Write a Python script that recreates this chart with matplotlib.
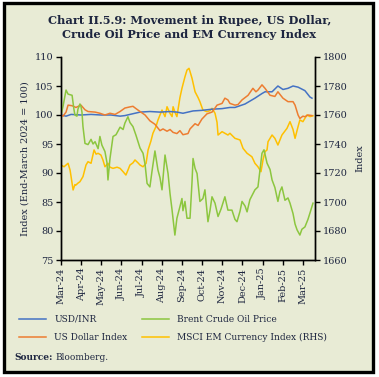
import matplotlib
matplotlib.use("Agg")
import matplotlib.pyplot as plt
from matplotlib.patches import Rectangle

# time axis: months since end-March 2024
month_labels = ['Mar-24', 'Apr-24', 'May-24', 'Jun-24', 'Jul-24', 'Aug-24', 'Sep-24',
                'Oct-24', 'Nov-24', 'Dec-24', 'Jan-25', 'Feb-25', 'Mar-25']

# USD/INR (End-March 2024 = 100)
usd_t = [0, 0.25, 0.5, 0.99, 1.49, 1.98, 2.48, 2.93, 3.17, 3.42, 3.92, 4.41, 4.91, 5.41, 5.75,
         6.05, 6.55, 6.99, 7.49, 7.99, 8.38, 8.63, 9.13, 9.62, 9.97, 10.12, 10.47, 10.76, 11.01,
         11.26, 11.51, 11.76, 12.10, 12.35, 12.45]
usd_v = [100, 99.8, 100.1, 100.0, 100.1, 100.0, 100.0, 99.8, 99.9, 100.1, 100.5, 100.6, 100.5,
         100.6, 100.5, 100.3, 100.7, 100.8, 101.0, 101.1, 101.3, 101.3, 101.9, 102.9, 103.7,
         104.0, 104.0, 105.0, 104.4, 104.6, 105.0, 104.8, 104.2, 103.1, 102.9]

# US Dollar Index
dxy_t = [0, 0.10, 0.25, 0.35, 0.55, 0.74, 0.99, 1.09, 1.19, 1.34, 1.69, 1.93, 2.18, 2.43, 2.68,
         2.93, 3.17, 3.42, 3.57, 3.72, 3.92, 4.17, 4.41, 4.66, 4.91, 5.06, 5.26, 5.41, 5.56,
         5.75, 5.90, 6.05, 6.30, 6.40, 6.65, 6.80, 6.99, 7.24, 7.49, 7.64, 7.74, 7.99, 8.13,
         8.28, 8.38, 8.63, 8.78, 8.98, 9.28, 9.52, 9.67, 9.77, 9.97, 10.12, 10.37, 10.61, 10.76,
         11.01, 11.26, 11.51, 11.61, 11.76, 11.85, 12.00, 12.10, 12.25, 12.45]
dxy_v = [100, 99.8, 100.5, 101.7, 101.6, 101.3, 101.7, 101.3, 100.9, 100.6, 100.5, 100.3, 100.0,
         100.3, 100.1, 100.6, 101.2, 101.4, 101.5, 101.1, 100.6, 100.0, 99.0, 98.4, 97.3, 97.6,
         97.2, 97.5, 97.0, 96.8, 97.3, 96.6, 96.8, 97.6, 98.5, 98.2, 99.3, 100.2, 100.5, 101.2,
         101.7, 102.0, 102.9, 102.6, 102.0, 101.7, 101.8, 102.6, 103.4, 104.6, 104.0, 104.3,
         105.2, 104.6, 103.4, 103.2, 104.0, 102.9, 102.3, 102.3, 101.7, 100.0, 99.4, 99.8, 99.7,
         100.0, 99.9]

# Brent Crude Oil Price
brent_t = [0, 0.10, 0.25, 0.35, 0.45, 0.55, 0.64, 0.69, 0.79, 0.84, 0.94, 0.99, 1.04, 1.09,
           1.19, 1.34, 1.49, 1.59, 1.69, 1.84, 1.93, 2.03, 2.18, 2.28, 2.33, 2.43, 2.58, 2.73,
           2.93, 3.08, 3.17, 3.32, 3.42, 3.57, 3.72, 3.92, 4.07, 4.17, 4.27, 4.41, 4.51, 4.66,
           4.81, 4.91, 5.01, 5.16, 5.31, 5.41, 5.51, 5.60, 5.65, 5.75, 5.90, 6.00, 6.05, 6.15,
           6.25, 6.40, 6.50, 6.55, 6.65, 6.75, 6.89, 7.04, 7.14, 7.29, 7.39, 7.49, 7.64, 7.79,
           7.94, 8.13, 8.28, 8.48, 8.63, 8.73, 8.88, 8.98, 9.13, 9.23, 9.37, 9.62, 9.77, 9.87,
           9.97, 10.07, 10.22, 10.37, 10.47, 10.61, 10.76, 10.86, 10.96, 11.11, 11.26, 11.36,
           11.51, 11.61, 11.71, 11.85, 11.95, 12.10, 12.25, 12.35, 12.50]
brent_v = [100, 101.5, 104.3, 103.6, 103.5, 103.4, 101.0, 100.0, 99.8, 101.0, 101.9, 101.5,
           100.5, 98.0, 95.1, 94.9, 95.8, 95.0, 95.4, 94.2, 96.3, 94.8, 93.7, 91.8, 88.8, 92.5,
           96.3, 96.6, 97.9, 97.5, 98.6, 99.7, 98.7, 98.0, 96.5, 94.3, 93.4, 91.5, 88.2, 87.6,
           90.2, 93.8, 90.5, 89.2, 87.1, 93.1, 89.9, 86.4, 83.6, 80.8, 79.3, 82.2, 84.2, 85.6,
           83.5, 85.1, 82.2, 82.2, 88.5, 92.5, 90.8, 89.9, 85.1, 85.6, 87.1, 81.6, 83.5, 85.9,
           84.8, 82.5, 83.8, 85.9, 83.6, 83.6, 82.0, 81.6, 83.4, 85.1, 84.3, 83.3, 85.4, 87.1,
           87.6, 90.5, 93.4, 94.0, 91.7, 90.6, 88.8, 87.5, 85.1, 86.8, 87.6, 85.3, 85.7, 84.8,
           83.0, 81.2, 80.2, 79.3, 80.3, 80.7, 82.0, 83.1, 84.8]

# MSCI EM Currency Index (RHS)
msci_t = [0, 0.15, 0.35, 0.45, 0.50, 0.60, 0.69, 0.74, 0.84, 0.94, 1.09, 1.24, 1.34, 1.49,
          1.64, 1.74, 1.84, 1.98, 2.08, 2.18, 2.33, 2.43, 2.58, 2.78, 2.93, 3.08, 3.22, 3.32,
          3.42, 3.57, 3.67, 3.82, 3.92, 4.07, 4.22, 4.32, 4.46, 4.56, 4.71, 4.81, 4.91, 5.01,
          5.16, 5.26, 5.41, 5.51, 5.56, 5.65, 5.75, 5.90, 6.00, 6.15, 6.25, 6.35, 6.40, 6.50,
          6.65, 6.80, 6.89, 7.04, 7.24, 7.39, 7.49, 7.64, 7.74, 7.79, 7.99, 8.13, 8.28, 8.38,
          8.63, 8.88, 9.03, 9.23, 9.47, 9.62, 9.77, 9.92, 10.02, 10.12, 10.22, 10.27, 10.47,
          10.61, 10.76, 10.96, 11.21, 11.36, 11.51, 11.61, 11.76, 11.85, 12.00, 12.20, 12.35,
          12.50]
msci_v = [1725.5, 1724.3, 1726.7, 1722.0, 1717.5, 1708.3, 1712.0, 1711.7, 1713.0, 1714.0,
          1717.5, 1725.5, 1727.8, 1726.7, 1735.9, 1733.0, 1733.6, 1732.4, 1729.0, 1724.3,
          1726.7, 1724.0, 1723.2, 1724.0, 1723.2, 1720.9, 1718.6, 1722.0, 1725.5, 1727.0,
          1729.0, 1727.0, 1725.5, 1724.3, 1726.7, 1735.9, 1742.0, 1747.4, 1752.0, 1756.5,
          1760.0, 1763.4, 1758.9, 1765.7, 1761.0, 1758.9, 1765.7, 1762.0, 1758.9, 1772.0,
          1778.4, 1786.4, 1791.0, 1792.2, 1790.0, 1785.3, 1776.0, 1772.0, 1769.2, 1763.4,
          1762.3, 1763.0, 1764.6, 1761.2, 1755.0, 1746.2, 1748.5, 1747.4, 1746.2, 1747.4,
          1743.9, 1742.8, 1737.0, 1733.6, 1731.2, 1726.7, 1724.3, 1720.9, 1729.0, 1734.7,
          1735.9, 1741.6, 1746.2, 1743.9, 1739.3, 1746.2, 1750.8, 1755.4, 1750.0, 1743.9,
          1752.0, 1756.6, 1755.4, 1760.0, 1758.9, 1759.5]

bg = '#e8ebd5'
txt = '#1e2640'
plt.rcParams['font.family'] = 'DejaVu Serif'

fig = plt.figure(figsize=(3.79, 3.77), dpi=100)
fig.patch.set_facecolor('white')
fig.patches.append(Rectangle((4/379, 1-372/377), 369/379, 369/377, transform=fig.transFigure,
                             facecolor=bg, edgecolor='black', linewidth=2.4, zorder=-10))

ax = fig.add_axes([61/379, 1-260/377, 254/379, 203/377])
ax.set_facecolor('none')
ax2 = ax.twinx()

l1, = ax.plot(usd_t, usd_v, color='#4472c4', lw=1.1, label='USD/INR')
l2, = ax.plot(dxy_t, dxy_v, color='#ed7d31', lw=1.1, label='US Dollar Index')
l3, = ax.plot(brent_t, brent_v, color='#8cc63f', lw=1.1, label='Brent Crude Oil Price')
l4, = ax2.plot(msci_t, msci_v, color='#ffc000', lw=1.1, label='MSCI EM Currency Index (RHS)')
ax.set_zorder(ax2.get_zorder() + 1)

ax.set_xlim(0, 12.6)
ax.set_ylim(75, 110)
ax.set_yticks(range(75, 111, 5))
ax2.set_ylim(1660, 1800)
ax2.set_yticks(range(1660, 1801, 20))
ax.set_xticks(range(len(month_labels)))
ax.set_xticklabels(month_labels, rotation=90)

for a in (ax, ax2):
    a.spines['top'].set_visible(False)
    for s in a.spines.values():
        s.set_linewidth(1.0)
    a.tick_params(labelsize=7, colors='black', labelcolor=txt, length=3.5, width=1.0, pad=2)

ax.set_ylabel('Index (End-March 2024 = 100)', fontsize=7, color=txt, labelpad=4)
ax2.set_ylabel('Index', fontsize=7, color=txt, labelpad=6)

fig.text(0.5, 1-20/377, 'Chart II.5.9: Movement in Rupee, US Dollar,', ha='center', va='center',
         fontsize=8.2, fontweight='bold', color=txt)
fig.text(0.5, 1-35/377, 'Crude Oil Price and EM Currency Index', ha='center', va='center',
         fontsize=8.2, fontweight='bold', color=txt)

fig.legend(handles=[l1, l2, l3, l4], loc='upper left', bbox_to_anchor=(19/379, 1-315/377),
           ncol=2, frameon=False, fontsize=6.5, handlelength=3.0, handletextpad=0.9,
           columnspacing=1.6, labelspacing=1.0, borderpad=0, borderaxespad=0,
           labelcolor=txt)

fig.text(14/379, 1-358/377, 'Source:', fontsize=6.5, fontweight='bold', color=txt, va='center')
fig.text(55/379, 1-358/377, 'Bloomberg.', fontsize=6.5, color=txt, va='center')

fig.savefig('out.png', dpi=100, facecolor=fig.get_facecolor())
